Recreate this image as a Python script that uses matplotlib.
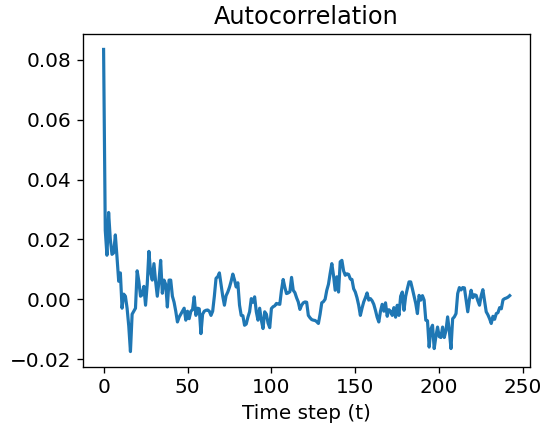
import numpy as np
import matplotlib
matplotlib.use("Agg")
import matplotlib.pyplot as plt

plt.rcParams['font.size'] = 12

# autocorrelation values, lag 0..242
acf = [
    0.0835, 0.023, 0.0147, 0.029, 0.020, 0.015, 0.0155, 0.0215, 0.014, 0.006,
    0.0088, -0.003, 0.0017, 0.001, -0.003, -0.009, -0.0175, -0.005, -0.004, -0.003,
    0.0095, 0.006, 0.001, 0.0015, 0.0043, -0.002, 0.005, 0.016, 0.009, 0.0064,
    0.0119, 0.006, 0.001, 0.006, 0.013, 0.002, 0.0064, 0.005, -0.0026, 0.0064,
    0.0064, 0.001, -0.001, -0.004, -0.0076, -0.006, -0.005, -0.004, -0.003, -0.007,
    -0.004, -0.0065, -0.004, -0.0035, 0.0008, -0.0054, -0.003, -0.0032, -0.0115, -0.005,
    -0.004, -0.0037, -0.0036, -0.004, -0.0054, -0.004, 0.001, 0.007, 0.0075, 0.0088,
    0.005, 0.001, -0.002, 0.0012, 0.0024, 0.004, 0.006, 0.0084, 0.0065, 0.0041,
    0.0055, -0.002, -0.0054, -0.0055, -0.0087, -0.0083, -0.006, -0.0042, 0.0002, -0.001,
    0.0008, -0.0042, -0.007, -0.003, -0.007, -0.0098, -0.0042, -0.005, -0.008, -0.0095,
    -0.0031, -0.0025, -0.0022, -0.0014, -0.0016, -0.0017, 0.003, 0.0066, 0.004, 0.0019,
    0.0021, 0.0025, 0.0073, 0.003, 0.0022, 0.0005, -0.0009, -0.0034, -0.002, -0.0012,
    -0.0009, -0.001, -0.0054, -0.0062, -0.0068, -0.007, -0.0071, -0.0075, -0.0081, -0.005,
    -0.0012, -0.0008, 0.0, 0.003, 0.005, 0.0086, 0.0119, 0.008, 0.003, 0.0075,
    0.0024, 0.0125, 0.013, 0.0095, 0.008, 0.0085, 0.0083, 0.0068, 0.0066, 0.0035,
    0.0024, 0.0005, -0.002, -0.0054, -0.003, -0.0009, 0.0005, 0.0021, -0.0003, 0.0002,
    -0.0005, -0.0017, -0.0037, -0.006, -0.0076, -0.004, -0.0017, -0.004, -0.0012, -0.0057,
    -0.0035, -0.004, -0.0054, -0.0028, -0.006, -0.002, -0.0054, 0.001, 0.0024, -0.0037,
    0.001, 0.0035, 0.0058, 0.0058, 0.0035, 0.001, -0.0014, -0.0048, 0.0013, -0.0003,
    0.0012, -0.0003, -0.007, -0.0072, -0.016, -0.010, -0.0087, -0.0165, -0.0125, -0.0093,
    -0.0125, -0.0128, -0.0093, -0.0128, -0.0105, -0.0059, -0.0105, -0.0165, -0.0065, -0.0059,
    -0.0048, 0.0019, 0.0039, 0.0031, 0.0039, 0.0038, -0.0002, -0.0042, 0.0, 0.003,
    0.0005, 0.0015, 0.0013, -0.0005, -0.002, 0.0012, 0.0032, -0.0005, -0.0042, -0.0052,
    -0.0065, -0.0081, -0.0057, -0.0067, -0.0048, -0.0045, -0.0028, -0.0032, -0.0002, 0.0002,
    0.0004, 0.0007, 0.0012,
]
lags = np.arange(len(acf))

fig = plt.figure(figsize=(544 / 120, 431 / 120), dpi=120)
ax = fig.add_axes([0.1531, 0.1492, 0.8212, 0.7712])
ax.plot(lags, acf, lw=1.9)
ax.set_title('Autocorrelation')
ax.set_xlabel('Time step (t)')

fig.savefig('out.png', dpi=120)
